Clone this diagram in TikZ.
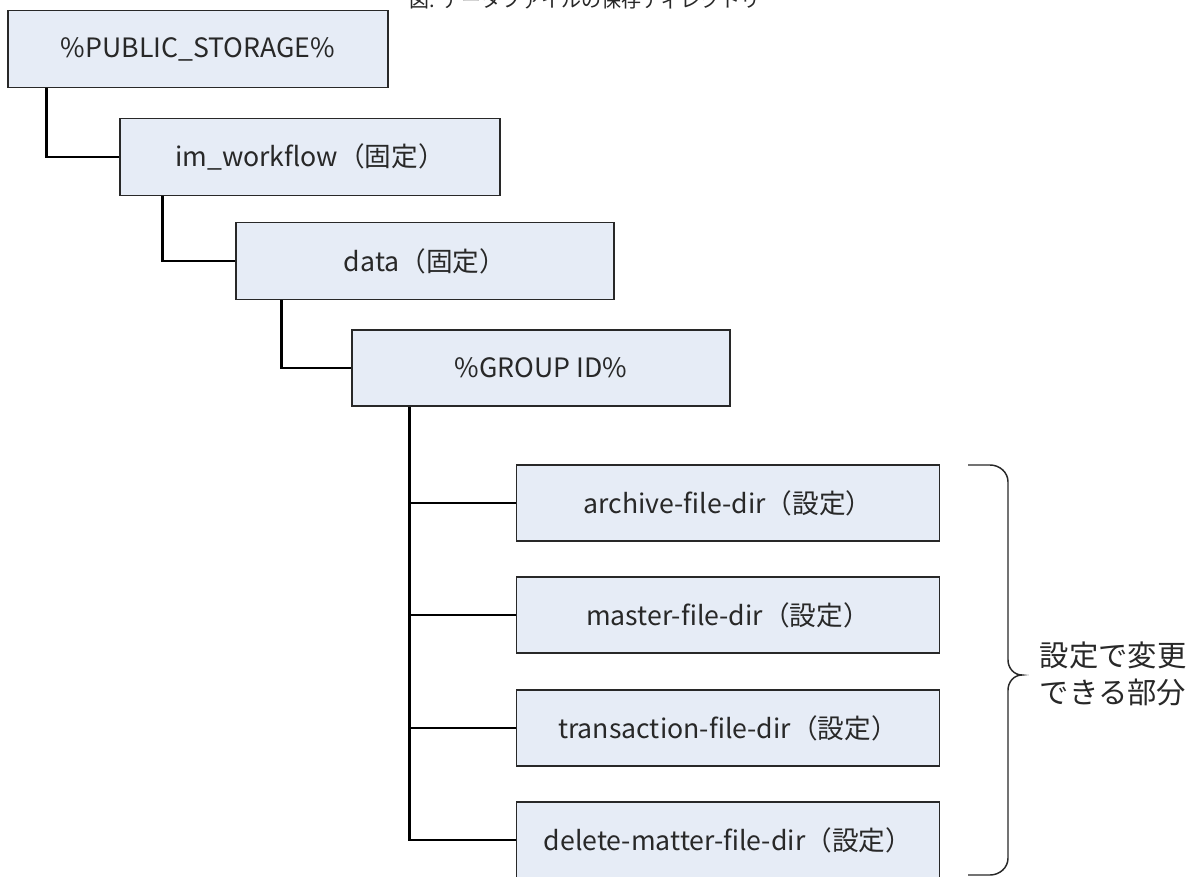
\documentclass[tikz,border=0pt]{standalone}
\usepackage{fontspec}
\setmainfont{Noto Sans CJK JP}
\usetikzlibrary{positioning,calc}
\definecolor{boxfill}{RGB}{230,236,246}
\definecolor{ink}{RGB}{40,40,40}
\tikzset{
  dirbox/.style={draw=ink,line width=1.1pt,fill=boxfill,text=ink,minimum width=285pt,minimum height=57.75pt,inner sep=0pt,font=\fontsize{20}{23}\selectfont},
  leafbox/.style={dirbox,minimum width=317.25pt,minimum height=57pt},
  link/.style={black,line width=2pt}
}
\begin{document}
\begin{tikzpicture}[x=0.75pt,y=-0.75pt]
\useasboundingbox (0,0) rectangle (1198,877);
\node[text=ink,font=\fontsize{15}{18}\selectfont] (title) at (585,0) {図: データファイルの保存ディレクトリ};
\node[dirbox] (pub) at (198,49) {\%PUBLIC\_STORAGE\%};
\node[dirbox] (wf) at (310,157) {im\_workflow（固定）};
\node[dirbox,minimum width=283.5pt] (data) at (425,261) {data（固定）};
\node[dirbox,minimum width=283.5pt,minimum height=57pt] (grp) at (541,368) {\%GROUP ID\%};
\foreach \n/\t/\y in {arc/archive-file-dir/503,mst/master-file-dir/615,trn/transaction-file-dir/728,del/delete-matter-file-dir/840}
  {\node[leafbox] (\n) at (728,\y) {\t（設定）};}
% tree lines
\draw[link] ([xshift=29.25pt]pub.south west) |- (wf.west);
\draw[link] ([xshift=32.25pt]wf.south west) |- (data.west);
\draw[link] ([xshift=34.5pt]data.south west) |- (grp.west);
\coordinate (trunk) at ([xshift=43.5pt]grp.south west);
\draw[link] (trunk) |- (del.west);
\foreach \n in {arc,mst,trn} {\draw[link] (trunk |- \n.west) -- (\n.west);}
% brace
\draw[ink,line width=1.1pt] (968,465) -- (990,465) to[out=0,in=90] (1008,482) -- (1008,660)
  to[out=-90,in=180] (1022,675) to[out=180,in=90] (1008,690) -- (1008,858) to[out=-90,in=0] (990,875) -- (968,875);
\node[text=ink,font=\fontsize{22}{28}\selectfont,align=center] (note) at (1113,674) {設定で変更\\できる部分};
\end{tikzpicture}
\end{document}
